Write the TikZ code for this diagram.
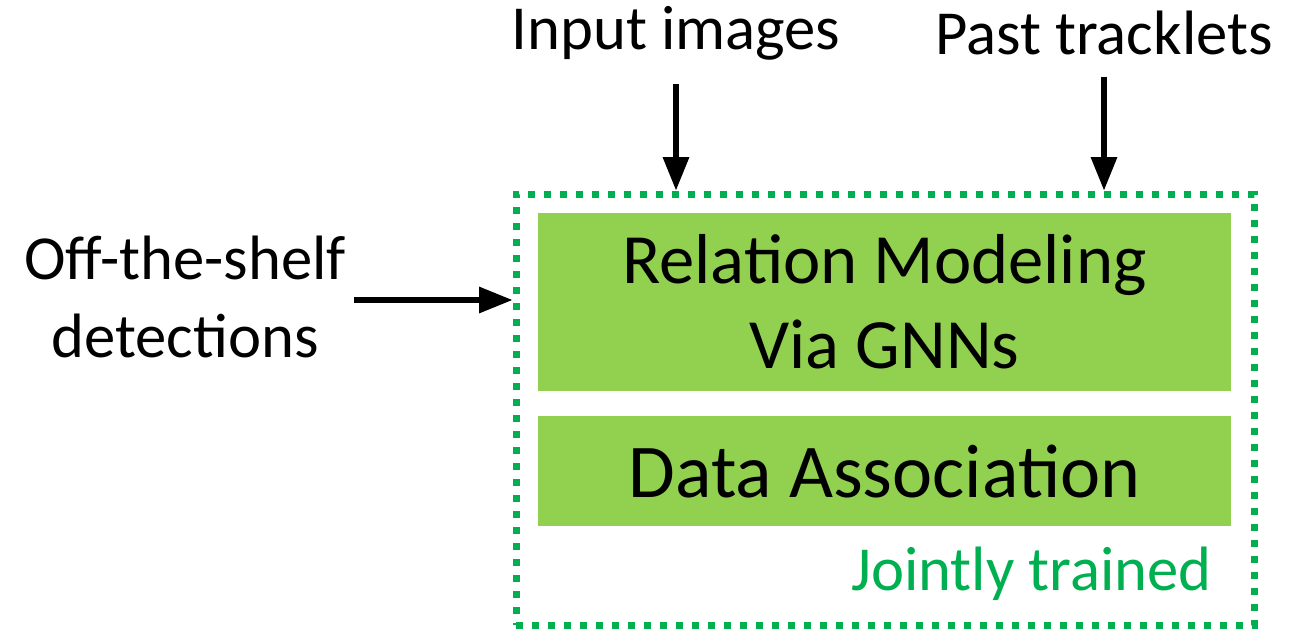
\documentclass[tikz,border=0pt]{standalone}
\usepackage{fontspec}
\setmainfont{Carlito}
\usepackage{xcolor}
\usetikzlibrary{arrows.meta, positioning}
\definecolor{boxgreen}{RGB}{146,208,80}
\definecolor{darkgreen}{RGB}{0,176,80}
\tikzstyle{arrow} = [line width=3.8pt,-{Triangle[length=25pt,width=19pt]}]
\tikzstyle{block} = [rectangle, fill=boxgreen, minimum width=519.75pt, align=center, font=\fontsize{53}{64}\selectfont]
\tikzstyle{label} = [align=center, font=\fontsize{47}{58}\selectfont]

\begin{document}
\begin{tikzpicture}[x=0.75pt, y=-0.75pt]
        \useasboundingbox (0,0) rectangle (1296,632);
        \node (frame) [rectangle, draw=darkgreen, line width=5.25pt, dash pattern=on 5.25pt off 6.75pt, minimum width=553.5pt, minimum height=323.25pt] at (885,409.5) {};
        \node (relation) [block, minimum height=133.5pt] at (884.5,302) {Relation Modeling\\Via GNNs};
        \node (assoc) [block, minimum height=82.5pt, font=\fontsize{57}{68}\selectfont] at (884.5,471) {Data Association};
        \node (joint) [label, text=darkgreen, anchor=base east, inner sep=0pt] at (1212,590) {Jointly trained};

        \node (images) [label, inner sep=0pt] at (676,33) {Input images};
        \node (tracklets) [label, inner sep=0pt] at (1104,33) {Past tracklets};
        \node (detections) [label, inner sep=0pt] at (185,297) {Off-the-shelf\\detections};

        \draw [arrow] ([yshift=-18pt]images.south) -- (images.south |- frame.north);
        \draw [arrow] ([yshift=-16pt]tracklets.south) -- (tracklets.south |- frame.north);
        \draw [arrow] ([xshift=6pt,yshift=-2.25pt]detections.east) -- ([yshift=-2.25pt]detections.east -| frame.west);
    \end{tikzpicture}
\end{document}
